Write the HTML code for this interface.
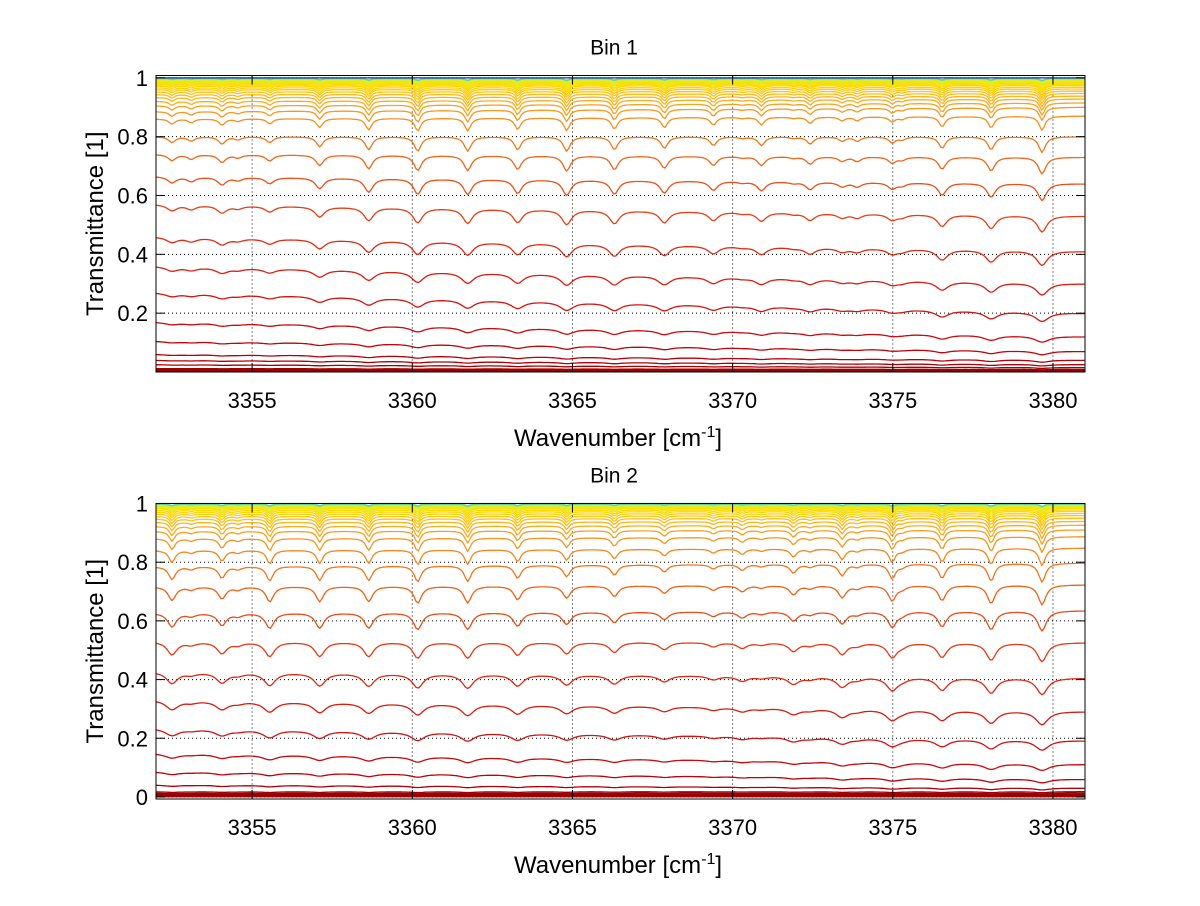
<!DOCTYPE html>
<html><head><meta charset="utf-8">
<style>
html,body{margin:0;padding:0;background:#fff;}
svg text{font-family:"Liberation Sans",Arial,sans-serif;fill:#000;}
</style></head>
<body>
<svg id="fig" width="1200" height="901" viewBox="0 0 1200 901" xmlns="http://www.w3.org/2000/svg">
<rect width="1200" height="901" fill="#fff"/>
</svg>
<script>
// ---- data ----
const xTicks = [3355, 3360, 3365, 3370, 3375, 3380];
const yTicksTop = [0.2, 0.4, 0.6, 0.8, 1];
const yTicksBottom = [0, 0.2, 0.4, 0.6, 0.8, 1];
const lineCenters = [3352.5, 3353.1, 3354.06, 3354.56, 3355.55, 3357.11, 3358.64, 3360.17, 3361.73, 3363.29, 3364.82, 3366.31, 3367.87, 3369.40, 3370.3, 3370.90, 3371.9, 3372.42, 3373.42, 3373.89, 3374.98, 3375.29, 3376.54, 3378.07, 3379.66];
const strengthBin1 = [0.02, 0.015, 0.025, 0.01, 0.02, 0.035, 0.045, 0.05, 0.05, 0.045, 0.05, 0.045, 0.04, 0.03, 0.005, 0.03, 0.005, 0.025, 0.015, 0.015, 0.02, 0.01, 0.04, 0.045, 0.055];
const strengthBin2 = [0.045, 0.01, 0.04, 0.01, 0.05, 0.05, 0.05, 0.055, 0.055, 0.045, 0.04, 0.035, 0.025, 0.015, 0.02, 0.008, 0.03, 0.01, 0.04, 0.01, 0.05, 0.01, 0.05, 0.06, 0.065];
const levelLeftBin1 = [0.001, 0.002, 0.003, 0.004, 0.006, 0.009, 0.012, 0.025, 0.04, 0.06, 0.105, 0.17, 0.27, 0.36, 0.46, 0.57, 0.665, 0.74, 0.80, 0.86, 0.885, 0.905, 0.92, 0.933, 0.943, 0.952, 0.96, 0.966, 0.972, 0.977, 0.981, 0.985, 0.988, 0.991, 0.993, 0.995, 0.997, 0.998, 1.0];
const levelRightBin1 = [0.001, 0.002, 0.003, 0.004, 0.005, 0.007, 0.009, 0.015, 0.025, 0.04, 0.07, 0.12, 0.20, 0.30, 0.41, 0.53, 0.64, 0.73, 0.80, 0.87, 0.90, 0.915, 0.928, 0.938, 0.947, 0.955, 0.962, 0.968, 0.974, 0.978, 0.982, 0.986, 0.989, 0.991, 0.993, 0.995, 0.997, 0.998, 1.0];
const levelLeftBin2 = [0.001, 0.002, 0.004, 0.006, 0.009, 0.013, 0.018, 0.041, 0.086, 0.149, 0.234, 0.331, 0.427, 0.53, 0.627, 0.717, 0.785, 0.84, 0.88, 0.905, 0.922, 0.936, 0.947, 0.956, 0.964, 0.971, 0.977, 0.982, 0.986, 0.99, 0.993, 0.995, 0.997, 0.998, 1.0];
const levelRightBin2 = [0.001, 0.002, 0.004, 0.006, 0.009, 0.013, 0.018, 0.03, 0.06, 0.111, 0.192, 0.291, 0.405, 0.526, 0.635, 0.723, 0.797, 0.848, 0.887, 0.91, 0.926, 0.939, 0.95, 0.959, 0.966, 0.973, 0.978, 0.983, 0.987, 0.99, 0.993, 0.995, 0.997, 0.998, 1.0];

const NS = 'http://www.w3.org/2000/svg';
const svg = document.getElementById('fig');
const X0 = 156, X1 = 1085, XMIN = 3352, XMAX = 3381;
function xs(v){ return X0 + (v - XMIN) / (XMAX - XMIN) * (X1 - X0); }
function mk(tag, attrs, parent){
  const e = document.createElementNS(NS, tag);
  for (const k in attrs) e.setAttribute(k, attrs[k]);
  (parent || svg).appendChild(e);
  return e;
}
const stops = [[0,[150,0,0]],[0.05,[185,0,10]],[0.2,[210,16,16]],[0.45,[225,45,20]],[0.65,[235,80,25]],[0.8,[242,120,30]],[0.9,[248,155,32]],[0.95,[255,190,30]],[0.98,[255,220,0]],[0.995,[220,240,40]],[1.0,[30,190,210]]];
function colorFor(L){
  if (L >= 1) return null;
  for (let i=1;i<stops.length;i++){
    if (L <= stops[i][0]){
      const a=stops[i-1], b=stops[i], t=(L-a[0])/(b[0]-a[0]);
      const c=a[1].map((v,j)=>Math.round(v+(b[1][j]-v)*t));
      return 'rgb('+c.join(',')+')';
    }
  }
  return 'rgb(30,190,210)';
}

function panel(cfg){
  const g = mk('g', {});
  
  
  const ys = v => cfg.yb - (v - cfg.ymin) / (cfg.ymax - cfg.ymin) * (cfg.yb - cfg.yt);
  const grid = mk('g', {stroke:'#000','stroke-width':1,'stroke-dasharray':'1,3'}, g);
  
  
  xTicks.forEach(t => mk('line', {x1:xs(t), x2:xs(t), y1:cfg.yt, y2:cfg.yb}, grid));
  cfg.yTicks.forEach(t => mk('line', {x1:X0, x2:X1, y1:ys(t), y2:ys(t)}, grid));
  const curves = mk('g', {fill:'none','stroke-width':1.3,'stroke-linejoin':'round'}, g);
  
  
  const N = cfg.left.length;
  for (let i=0;i<N;i++){
    const Ll = cfg.left[i], Lr = cfg.right[i];
    const Lm = (Ll+Lr)/2;
    const s = Math.min(1.1, 2.6*Lm*Math.sqrt(Math.max(0,1-Lm)));
    const w = 0.08 + 0.22*(1-Lm);
    let d = '';
    for (let x=XMIN; x<=XMAX+1e-9; x+=0.07){
      const base = Ll + (Lr-Ll)*(x-XMIN)/(XMAX-XMIN);
      let a = 0;
      for (let j=0;j<lineCenters.length;j++){
        const u=(x-lineCenters[j])/w;
        a += cfg.strength[j]/(1+u*u);
      }
      let v = base - s*a*1.05;
      if (v < cfg.ymin) v = cfg.ymin + 0.001;
      d += (d?'L':'M') + xs(x).toFixed(1) + ',' + ys(v).toFixed(1);
    }
    let col = colorFor(Lm);
    if (col === null) col = cfg.topColor;
    const p = mk('path', {d:d, stroke:col}, curves);
    
    
  }
  const fr = mk('rect', {x:X0, y:cfg.yt, width:X1-X0, height:cfg.yb-cfg.yt, fill:'none', stroke:'#000','stroke-width':1}, g);
  
  
  const tk = mk('g', {stroke:'#000','stroke-width':1}, g);
  xTicks.forEach(t => { mk('line',{x1:xs(t),x2:xs(t),y1:cfg.yb,y2:cfg.yb-9},tk); mk('line',{x1:xs(t),x2:xs(t),y1:cfg.yt,y2:cfg.yt+9},tk); });
  cfg.yTicks.forEach(t => { mk('line',{x1:X0,x2:X0+9,y1:ys(t),y2:ys(t)},tk); mk('line',{x1:X1,x2:X1-9,y1:ys(t),y2:ys(t)},tk); });
  xTicks.forEach(t => {
    const e = mk('text', {x:xs(t), y:cfg.yb+36, 'font-size':22, 'text-anchor':'middle'}, g);
    e.textContent = String(t);
    
    
  });
  cfg.yTicks.forEach(t => {
    const e = mk('text', {x:148, y:ys(t)+8, 'font-size':22, 'text-anchor':'end'}, g);
    e.textContent = String(t);
    
    
  });
  const ti = mk('text', {x:614, y:cfg.yt-21, 'font-size':21, 'text-anchor':'middle'}, g);
  ti.textContent = cfg.title;
  
  
  const xl = mk('text', {x:618, y:cfg.yb+74, 'font-size':24, 'text-anchor':'middle'}, g);
  xl.innerHTML = 'Wavenumber [cm<tspan dy="-9" font-size="16">-1</tspan><tspan dy="9">]</tspan>';
  
  
  const cy = (cfg.yt+cfg.yb)/2;
  const yl = mk('text', {x:103, y:cy, 'font-size':24, 'text-anchor':'middle', transform:'rotate(-90 103 '+cy+')'}, g);
  yl.textContent = 'Transmittance [1]';
  
  
}

panel({name:'bin-1-panel', title:'Bin 1', yt:75.5, yb:372, ymin:0, ymax:1.008, yTicks:yTicksTop,
  left:levelLeftBin1, right:levelRightBin1, strength:strengthBin1, topColor:'#0a2fc8'});
panel({name:'bin-2-panel', title:'Bin 2', yt:503.5, yb:799, ymin:-0.007, ymax:1.0, yTicks:yTicksBottom,
  left:levelLeftBin2, right:levelRightBin2, strength:strengthBin2, topColor:'#20c0d8'});
</script>
</body></html>
